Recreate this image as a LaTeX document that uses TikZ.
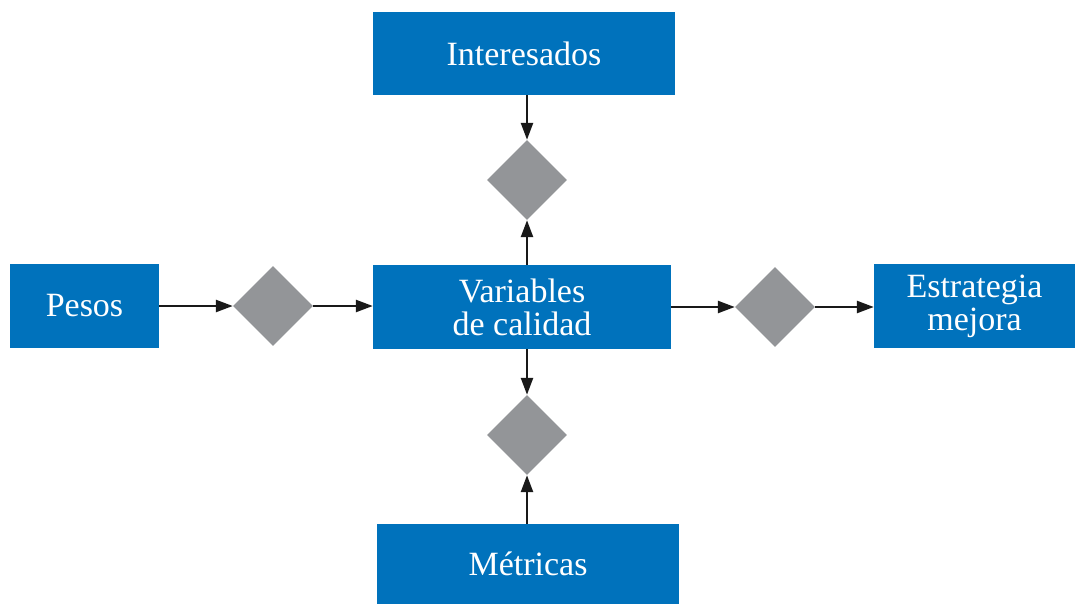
\documentclass[tikz,border=0pt]{standalone}
\usepackage{fontspec}
\setmainfont{Liberation Serif}
\usetikzlibrary{shapes.geometric,arrows.meta}
\definecolor{boxblue}{HTML}{0072BC}
\definecolor{gategray}{HTML}{939598}
\begin{document}
\begin{tikzpicture}[x=1pt,y=-1pt,
  box/.style={fill=boxblue,draw=none,text=white,align=center,inner sep=0pt,
    font=\fontsize{34}{33}\selectfont},
  gate/.style={diamond,fill=gategray,draw=none,inner sep=0pt,minimum width=80pt,minimum height=80pt},
  flow/.style={draw=black!90,line width=2.5pt,-{Triangle[length=17pt,width=12pt]}}]
\useasboundingbox (0,0) rectangle (1076,604);
% blue boxes
\node[box,minimum width=302pt,minimum height=83pt] (int) at (524,53.5) {Interesados};
\node[box,minimum width=149pt,minimum height=84pt] (pes) at (84.5,306) {Pesos};
\node[box,minimum width=298pt,minimum height=84pt] (var) at (522,307) {Variables\\de calidad};
\node[box,minimum width=201pt,minimum height=84pt] (est) at (974.5,306) {Estrategia\\mejora};
\node[box,minimum width=302pt,minimum height=80pt] (met) at (528,564) {Métricas};
% grey decision diamonds
\node[gate] (dt) at (527,180) {};
\node[gate] (dl) at (273,306) {};
\node[gate] (dr) at (775,307) {};
\node[gate] (db) at (527,435) {};
% connectors
\draw[flow] (int.south -| dt) -- (dt.north);
\draw[flow] (var.north -| dt) -- (dt.south);
\draw[flow] (pes.east |- dl) -- (dl.west);
\draw[flow] (dl.east) -- (dl.east -| var.west);
\draw[flow] (var.east |- dr) -- (dr.west);
\draw[flow] (dr.east) -- (dr.east -| est.west);
\draw[flow] (var.south -| db) -- (db.north);
\draw[flow] (met.north -| db) -- (db.south);
\end{tikzpicture}
\end{document}
